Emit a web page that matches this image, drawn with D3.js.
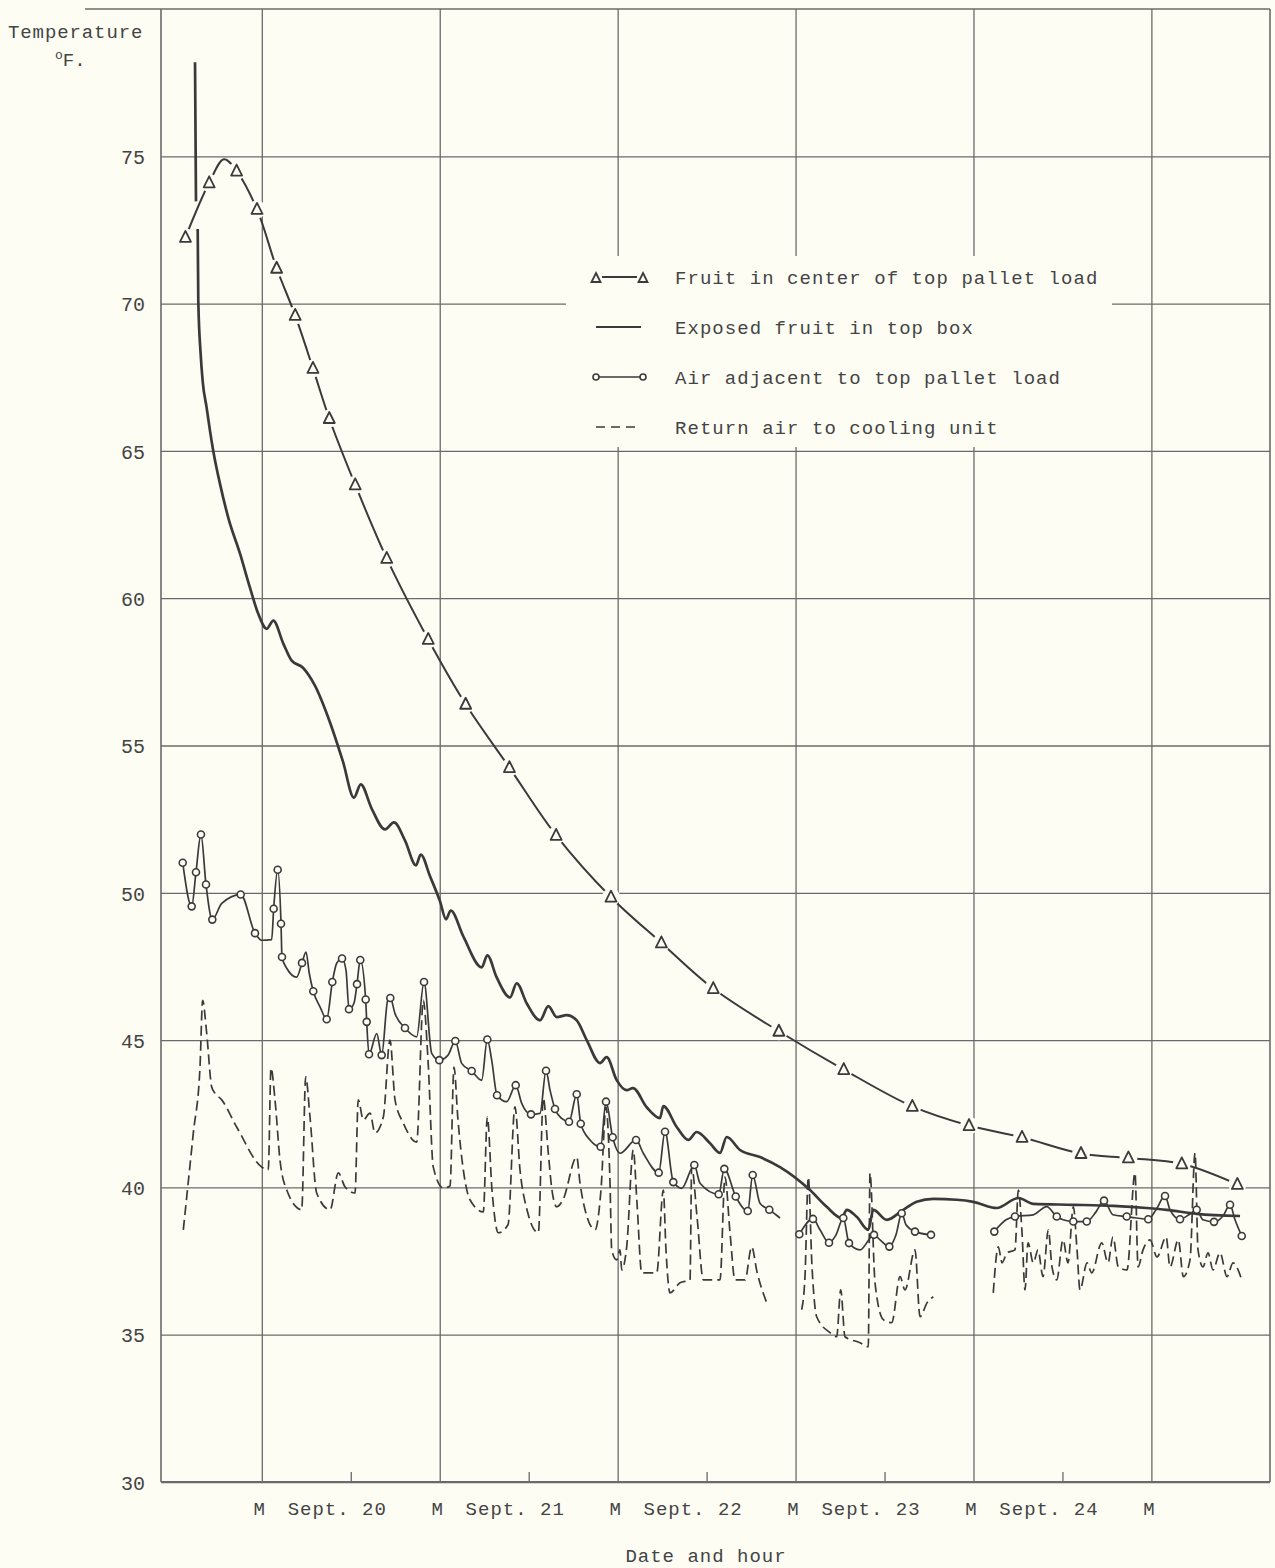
<!DOCTYPE html>
<html><head><meta charset="utf-8">
<script src="https://cdn.jsdelivr.net/npm/d3@7"></script>
<style>
html,body{margin:0;padding:0;background:#fdfdf4;}
svg{display:block;}
text{font-family:"Liberation Mono","DejaVu Sans Mono",monospace;fill:#444;}
</style></head>
<body>
<svg id="c" width="1275" height="1568"></svg>
<script>
// ---- Data (hours counted from midnight beginning Sept. 19; temperature °F) ----
const yTicks = [30,35,40,45,50,55,60,65,70,75];
const midnights = [24,48,72,96,120,144];
const noons = [36,60,84,108,132];
const dayLabels = ["Sept. 20","Sept. 21","Sept. 22","Sept. 23","Sept. 24"];

// Fruit in center of top pallet load: [hour, temp, marker]
const centerFruit = [
 [13.7,72.25,1],[16.9,74.1,1],[18.9,74.9,0],[20.6,74.5,1],[23.35,73.2,1],[26.0,71.2,1],
 [28.5,69.6,1],[30.9,67.8,1],[33.1,66.1,1],[36.6,63.85,1],[40.85,61.35,1],[46.45,58.6,1],
 [51.5,56.4,1],[57.4,54.25,1],[63.7,51.95,1],[71.1,49.85,1],[77.9,48.3,1],[84.9,46.75,1],
 [93.75,45.3,1],[102.5,44.0,1],[111.75,42.75,1],[119.4,42.1,1],[126.55,41.7,1],
 [134.5,41.15,1],[140.9,41.0,1],[148.1,40.8,1],[155.6,40.1,1]
];

// Exposed fruit in top box: [hour, temp]; null = break where the pen lifted
const exposedFruit = [
 [14.99,78.19],[15.12,73.47],null,[15.35,72.53],[15.43,70.09],[15.75,68.29],[16.02,67.37],
 [16.56,66.46],[17.01,65.68],[17.45,65.0],[18.36,63.88],[19.48,62.73],[21.06,61.51],
 [22.41,60.35],[23.52,59.47],[24.66,58.96],[25.55,59.24],[26.9,58.46],[28.03,57.88],
 [29.55,57.64],[31.17,57.03],[33.2,55.78],[34.95,54.45],[36.43,53.23],[37.34,53.68],
 [38.82,52.86],[40.62,52.15],[41.83,52.39],[43.31,51.78],[44.8,50.93],[45.43,51.3],
 [46.69,50.56],[48.04,49.71],[48.85,49.1],[49.48,49.4],[51.18,48.52],[53.66,47.47],
 [54.42,47.88],[55.68,47.13],[57.48,46.45],[58.38,46.93],[59.73,46.25],[61.53,45.67],
 [62.65,46.15],[63.78,45.78],[65.13,45.85],[66.48,45.67],[67.83,45.0],[69.62,44.22],
 [70.52,44.42],[71.87,43.64],[73.22,43.3],[74.07,43.37],[75.92,42.72],[77.71,42.35],
 [78.16,42.76],[79.97,42.05],[81.53,41.61],[82.66,41.88],[84.46,41.5],[85.81,41.17],
 [86.71,41.71],[88.51,41.27],[91.2,41.03],[93.9,40.69],[97.95,39.91],[100.2,39.34],
 [102.23,38.96],[102.9,39.24],[104.25,39.0],[105.81,38.56],[106.49,39.24],[108.3,38.9],
 [110.53,39.24],[112.34,39.51],[114.58,39.61],[117.74,39.58],[119.98,39.51],[123.13,39.3],
 [126.05,39.64],[128.07,39.44],[133.47,39.41],[138.86,39.37],[143.37,39.3],[146.07,39.24],
 [150.11,39.1],[155.96,39.03]
];

// Air adjacent to top pallet load: [hour, temp, marker]; null = break in record
const airAdjacent = [
 [13.33,51.02,1],[14.54,49.54,1],[15.12,50.7,1],[15.79,51.98,1],[16.47,50.28,1],[17.32,49.09,1],
 [18.59,49.64,0],[21.15,49.94,1],[23.08,48.63,1],[23.98,48.39,0],[25.33,48.41,0],[25.6,49.46,1],
 [26.14,50.78,1],[26.59,48.95,1],[26.72,47.82,1],[27.36,47.44,0],[28.7,47.14,0],[29.42,47.62,1],
 [29.96,47.99,0],[30.4,47.27,0],[30.94,46.66,1],[31.85,46.13,0],[32.75,45.71,1],[33.51,46.97,1],
 [34.1,47.61,0],[34.82,47.77,1],[35.36,47.37,0],[35.76,46.05,1],[36.43,46.25,0],[36.84,46.9,1],
 [37.28,47.72,1],[38.01,46.38,1],[38.15,45.62,1],[38.46,44.52,1],[39.5,45.22,0],[40.17,44.49,1],
 [40.98,46.35,0],[41.33,46.43,1],[41.97,45.9,0],[43.31,45.41,1],[44.89,45.11,0],[45.88,46.97,1],
 [46.92,44.55,0],[47.94,44.32,1],[49.12,44.49,0],[50.1,44.97,1],[50.96,44.21,0],[52.31,43.95,1],
 [53.66,43.64,0],[54.42,45.02,1],[55.01,44.32,0],[55.73,43.13,1],[57.03,42.91,0],[58.25,43.47,1],
 [59.06,42.85,0],[60.31,42.48,1],[61.53,42.51,0],[62.34,43.96,1],[62.88,43.3,0],[63.55,42.66,1],
 [64.45,42.34,0],[65.44,42.23,1],[66.48,43.16,1],[67.02,42.16,1],[68.27,41.61,0],[69.71,41.38,1],
 [70.43,42.91,1],[71.33,41.7,1],[72.32,41.16,0],[74.48,41.61,1],[75.46,41.16,0],[77.54,40.5,1],
 [78.39,41.89,1],[79.51,40.18,1],[80.64,39.97,0],[82.34,40.76,1],[83.11,40.14,0],[85.63,39.77,1],
 [86.39,40.63,1],[87.93,39.69,1],[89.55,39.2,1],[90.22,40.42,1],[91.2,39.46,0],[92.46,39.24,1],
 [93.9,38.96,0],
 null,
 [96.51,38.41,1],[98.35,38.93,1],[99.3,38.56,0],[100.51,38.12,1],[101.46,38.39,0],[102.44,38.96,1],
 [103.21,38.11,1],[104.69,37.88,0],[106.58,38.39,1],[107.39,38.22,0],[108.65,37.99,1],[109.55,38.39,0],
 [110.32,39.12,1],[110.9,38.73,0],[112.11,38.5,1],[114.27,38.39,1],
 null,
 [122.81,38.5,1],[124.39,38.9,0],[125.6,39.01,1],[128.07,39.07,0],[129.88,39.35,0],[131.23,39.01,1],
 [132.08,38.9,0],[133.47,38.84,1],[135.28,38.84,1],[136.53,39.17,0],[137.61,39.55,1],[138.82,39.07,0],
 [140.67,39.01,1],[141.79,38.97,0],[143.58,38.92,1],[144.62,39.24,0],[145.84,39.71,1],[146.51,39.24,0],
 [147.86,38.92,1],[149.21,39.1,0],[150.11,39.24,1],[150.96,38.9,0],[152.45,38.83,1],[153.66,39.03,0],
 [154.61,39.41,1],[155.28,38.9,0],[156.19,38.35,1]
];

// Return air to cooling unit: [hour, temp]; null = break in record
const returnAir = [
 [13.41,38.56],[14.76,41.85],[15.66,44.08],[16.02,46.35],[16.56,45.24],[17.24,43.41],[17.68,43.2],
 [18.59,42.97],[20.61,42.05],[23.98,40.69],[24.87,40.59],[25.24,44.05],[25.78,42.97],[26.45,40.93],
 [27.36,39.91],[29.38,39.24],[29.92,43.75],[30.5,42.39],[31.4,39.81],[33.2,39.24],[34.32,40.49],
 [35.22,40.02],[36.57,39.81],[37.01,42.97],[37.69,42.29],[38.59,42.52],[39.27,41.85],[40.39,42.39],
 [41.29,45.0],[41.97,42.97],[43.09,42.18],[44.89,41.54],[45.78,46.35],[46.42,44.32],[47.13,40.69],
 [48.48,39.98],[49.39,40.05],[49.92,44.08],[50.46,42.29],[52.08,39.58],[53.88,39.17],[54.42,42.39],
 [55.05,39.91],[55.9,38.46],[57.21,38.73],[58.15,42.73],[58.83,40.59],[59.77,39.24],[61.3,38.46],
 [61.97,43.03],[62.61,41.27],[63.14,39.91],[63.78,39.34],[64.63,39.58],[66.48,41.03],[66.92,40.15],
 [67.87,39.0],[68.95,38.56],[69.75,39.91],[70.43,42.73],[70.97,40.15],[71.2,37.88],[71.87,37.54],
 [72.32,37.88],[72.55,37.2],[73.22,37.98],[74.11,41.27],[74.61,39.47],[75.25,37.1],[77.27,37.1],
 [78.16,39.91],[78.52,37.88],[79.06,36.42],[80.41,36.76],[81.76,36.86],[81.99,40.69],[82.71,39.0],
 [83.56,36.86],[85.81,36.86],[86.48,40.35],[87.16,38.46],[87.83,36.86],[89.18,36.86],[90.08,37.98],
 [90.8,37.13],[92.11,36.08],
 null,
 [96.83,35.85],[97.27,36.97],[97.72,40.35],[98.22,37.3],[98.85,35.61],[100.65,35.07],[101.55,34.93],
 [102.09,36.52],[102.67,34.93],[104.69,34.73],[105.81,34.59],[106.04,40.49],[106.72,36.76],
 [107.84,35.51],[108.97,35.41],[110.09,36.97],[110.76,36.52],[112.11,37.88],[112.79,35.61],
 [113.73,36.08],[114.58,36.29],
 null,
 [122.67,36.42],[123.35,37.98],[123.85,37.44],[124.52,37.78],[125.6,37.88],[126.05,39.91],
 [126.55,38.46],[126.95,36.52],[127.36,38.12],[128.07,37.44],[128.71,37.88],[129.38,36.97],
 [130.1,38.56],[130.59,37.3],[131.23,36.86],[132.08,38.22],[132.75,37.44],[133.47,39.34],
 [133.97,37.88],[134.37,36.52],[135.32,37.44],[135.95,37.1],[137.3,38.12],[138.15,37.44],
 [138.82,38.32],[139.54,37.3],[140.71,37.2],[141.79,40.49],[142.2,37.3],[142.87,37.88],
 [143.82,38.22],[144.76,37.64],[145.99,38.32],[146.51,37.3],[147.63,38.22],[148.31,36.97],
 [149.21,37.54],[149.89,41.17],[150.29,37.88],[150.96,37.3],[151.64,37.78],[152.31,37.2],
 [153.26,37.78],[154.2,36.97],[155.01,37.44],[156.19,36.86]
];

const legendItems = [
 {label:"Fruit in center of top pallet load", kind:"tri"},
 {label:"Exposed fruit in top box", kind:"solid"},
 {label:"Air adjacent to top pallet load", kind:"circ"},
 {label:"Return air to cooling unit", kind:"dash"}
];

// ---- Drawing ----
const BG = "#fdfdf4", INK = "#3a3a3a", GRID = "#6a6a6a";
const FONT = "Liberation Mono, monospace";
const svg = d3.select("#c");
svg.append("rect").attr("width",1275).attr("height",1568).attr("fill",BG);

const x = d3.scaleLinear().domain([10.4,160]).range([161,1270]);
const y = d3.scaleLinear().domain([30,80]).range([1482,9]);
const [X0,X1] = x.range(), [Y0,Y1] = y.range();

// horizontal grid + labels
const ya = svg.append("g").attr("transform",`translate(${X0},0)`)
  .call(d3.axisLeft(y).tickValues(yTicks).tickSize(-(X1-X0)).tickPadding(16).tickFormat(d=>d));
ya.select(".domain").remove();
ya.selectAll("line").attr("stroke",GRID).attr("stroke-width",1.3);
ya.selectAll("text").attr("font-size",20).attr("fill","#444").attr("dy","0.36em").attr("font-family",FONT);

// vertical grid at midnights
const xa = svg.append("g").attr("transform",`translate(0,${Y0})`)
  .call(d3.axisBottom(x).tickValues(midnights).tickSize(-(Y0-Y1)).tickPadding(20).tickFormat(()=> "M"));
xa.select(".domain").remove();
xa.selectAll("line").attr("stroke",GRID).attr("stroke-width",1.3);
xa.selectAll("text").attr("font-size",19).attr("fill","#444").attr("dx",-3).attr("y",20).attr("font-family",FONT);

// noon ticks and day labels
const xn = svg.append("g").attr("transform",`translate(0,${Y0})`)
  .call(d3.axisBottom(x).tickValues(noons).tickSize(-10).tickPadding(20).tickFormat((d,i)=>dayLabels[i]));
xn.select(".domain").remove();
xn.selectAll("line").attr("stroke",GRID).attr("stroke-width",1.3);
xn.selectAll("text").attr("font-size",19).attr("fill","#444").attr("dx",-14).attr("y",20)
  .attr("letter-spacing",1).attr("font-family",FONT);

// frame
svg.append("line").attr("x1",85).attr("x2",X1).attr("y1",Y1).attr("y2",Y1).attr("stroke",GRID).attr("stroke-width",1.6);
svg.append("line").attr("x1",X0).attr("x2",X0).attr("y1",Y1).attr("y2",Y0).attr("stroke",GRID).attr("stroke-width",1.6);
svg.append("line").attr("x1",X1).attr("x2",X1).attr("y1",Y1).attr("y2",Y0).attr("stroke",GRID).attr("stroke-width",1.6);
svg.append("line").attr("x1",X0).attr("x2",X1).attr("y1",Y0).attr("y2",Y0).attr("stroke",GRID).attr("stroke-width",1.8);

// axis titles
svg.append("text").attr("x",8).attr("y",38).attr("font-size",19).attr("letter-spacing",0.9).text("Temperature");
const tf = svg.append("text").attr("x",55).attr("y",66).attr("font-size",19);
tf.append("tspan").attr("font-size",13).attr("dy",-7).text("o");
tf.append("tspan").attr("dy",7).text("F.");
svg.append("text").attr("x",706).attr("y",1562).attr("text-anchor","middle").attr("font-size",19)
  .attr("letter-spacing",1).text("Date and hour");

// blank legend panel (grid interrupted)
svg.append("rect").attr("x",566).attr("y",256).attr("width",546).attr("height",191).attr("fill",BG);

// series
const lineGen = d3.line().defined(d=>d!==null).x(d=>x(d[0])).y(d=>y(d[1])).curve(d3.curveMonotoneX);
const plot = svg.append("g");

// return air (dashed)
plot.append("path").datum(returnAir).attr("d",lineGen).attr("fill","none")
  .attr("stroke",INK).attr("stroke-width",1.7).attr("stroke-dasharray","10,5");

// exposed fruit (solid heavy)
plot.append("path").datum(exposedFruit).attr("d",lineGen).attr("fill","none")
  .attr("stroke",INK).attr("stroke-width",2.7).attr("stroke-linejoin","round");

// air adjacent (solid with circles)
plot.append("path").datum(airAdjacent).attr("d",lineGen).attr("fill","none")
  .attr("stroke",INK).attr("stroke-width",1.7);
plot.selectAll("circle.air").data(airAdjacent.filter(d=>d && d[2]===1)).join("circle")
  .attr("class","air").attr("cx",d=>x(d[0])).attr("cy",d=>y(d[1])).attr("r",3.5)
  .attr("fill",BG).attr("stroke",INK).attr("stroke-width",1.6);

// fruit in center (line with triangles)
plot.append("path").datum(centerFruit).attr("d",d3.line().x(d=>x(d[0])).y(d=>y(d[1])).curve(d3.curveCatmullRom.alpha(0.5)))
  .attr("fill","none").attr("stroke",INK).attr("stroke-width",2);
const triPath = "M0,-6.5L5.5,4.5L-5.5,4.5Z";
const tm = centerFruit.filter(d=>d[2]===1);
plot.selectAll("circle.gap").data(tm).join("circle").attr("class","gap")
  .attr("cx",d=>x(d[0])).attr("cy",d=>y(d[1])).attr("r",9).attr("fill",BG);
plot.selectAll("path.tri").data(tm).join("path").attr("class","tri")
  .attr("transform",d=>`translate(${x(d[0])},${y(d[1])})`).attr("d",triPath)
  .attr("fill",BG).attr("stroke",INK).attr("stroke-width",1.8).attr("stroke-linejoin","round");

// legend
const lg = svg.append("g").attr("transform","translate(596,277)");
legendItems.forEach((it,i)=>{
  const g = lg.append("g").attr("transform",`translate(0,${i*50})`);
  if(it.kind==="tri"){
    g.append("line").attr("x1",6).attr("x2",41).attr("stroke",INK).attr("stroke-width",2);
    [0,47].forEach(cx=>g.append("path").attr("transform",`translate(${cx},1)`).attr("d","M0,-5L4.5,4L-4.5,4Z")
      .attr("fill",BG).attr("stroke",INK).attr("stroke-width",1.8));
  } else if(it.kind==="solid"){
    g.append("line").attr("x1",0).attr("x2",45).attr("stroke",INK).attr("stroke-width",2.2);
  } else if(it.kind==="circ"){
    g.append("line").attr("x1",3).attr("x2",44).attr("stroke",INK).attr("stroke-width",1.7);
    [0,47].forEach(cx=>g.append("circle").attr("cx",cx).attr("r",3).attr("fill",BG).attr("stroke",INK).attr("stroke-width",1.6));
  } else {
    g.append("line").attr("x1",0).attr("x2",45).attr("stroke",INK).attr("stroke-width",1.6).attr("stroke-dasharray","9,6");
  }
  g.append("text").attr("x",79).attr("y",7).attr("font-size",19).attr("letter-spacing",1.05).text(it.label);
});
</script>
</body></html>
